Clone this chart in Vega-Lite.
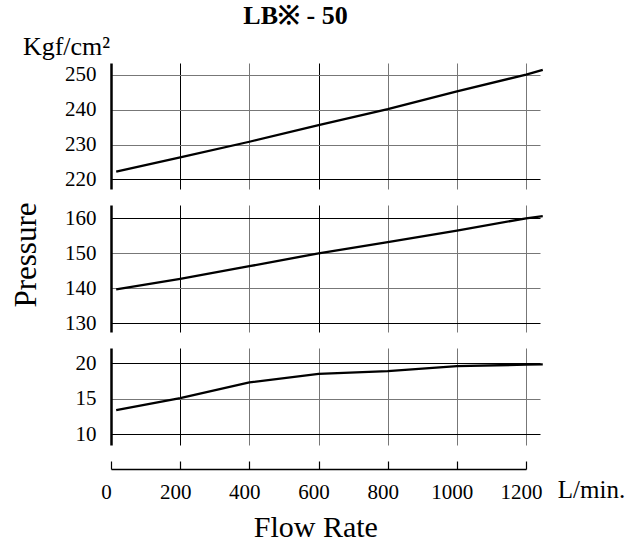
{
  "$schema": "https://vega.github.io/schema/vega-lite/v6.json",
  "padding": {"left": 10, "top": 3, "right": 5, "bottom": 2},
  "background": "white",
  "bounds": "flush",
  "spacing": 16,
  "config": {
    "view": {"stroke": null},
    "font": "Liberation Serif",
    "axis": {"labelFont": "Liberation Serif", "titleFont": "Liberation Serif", "labelColor": "black", "titleColor": "black", "titleFontWeight": "normal"}
  },
  "datasets": {
    "curves": [
      {"panel": "top", "flow": 15, "pressure": 222.2},
      {"panel": "top", "flow": 200, "pressure": 226.3},
      {"panel": "top", "flow": 400, "pressure": 230.8},
      {"panel": "top", "flow": 600, "pressure": 235.6},
      {"panel": "top", "flow": 800, "pressure": 240.2},
      {"panel": "top", "flow": 1000, "pressure": 245.3},
      {"panel": "top", "flow": 1200, "pressure": 250.1},
      {"panel": "top", "flow": 1248, "pressure": 251.5},
      {"panel": "middle", "flow": 15, "pressure": 139.7},
      {"panel": "middle", "flow": 200, "pressure": 142.7},
      {"panel": "middle", "flow": 400, "pressure": 146.3},
      {"panel": "middle", "flow": 600, "pressure": 150.0},
      {"panel": "middle", "flow": 800, "pressure": 153.2},
      {"panel": "middle", "flow": 1000, "pressure": 156.5},
      {"panel": "middle", "flow": 1200, "pressure": 160.0},
      {"panel": "middle", "flow": 1248, "pressure": 160.6},
      {"panel": "bottom", "flow": 15, "pressure": 13.4},
      {"panel": "bottom", "flow": 200, "pressure": 15.1},
      {"panel": "bottom", "flow": 400, "pressure": 17.3},
      {"panel": "bottom", "flow": 600, "pressure": 18.5},
      {"panel": "bottom", "flow": 800, "pressure": 18.9},
      {"panel": "bottom", "flow": 1000, "pressure": 19.6},
      {"panel": "bottom", "flow": 1200, "pressure": 19.8},
      {"panel": "bottom", "flow": 1248, "pressure": 19.85}
    ]
  },
  "vconcat": [
    {
      "width": 429,
      "height": 126,
      "title": {"text": "LB※ - 50", "font": "Liberation Serif", "fontSize": 26, "fontWeight": "bold", "color": "black", "anchor": "middle", "dx": -30, "offset": 4},
      "data": {"name": "curves"},
      "transform": [{"filter": "datum.panel === 'top'"}],
      "mark": {"type": "line", "color": "black", "strokeWidth": 2.3},
      "encoding": {
        "x": {
          "field": "flow", "type": "quantitative",
          "scale": {"domain": [0, 1240], "nice": false, "zero": false},
          "axis": {"values": [200, 400, 600, 800, 1000, 1200], "grid": true, "gridColor": {"condition": {"test": "datum.value === 200 || datum.value === 600", "value": "black"}, "value": "#777"}, "gridWidth": 1, "domain": false, "ticks": false, "labels": false, "title": null, "minExtent": 0, "maxExtent": 0}
        },
        "y": {
          "field": "pressure", "type": "quantitative",
          "scale": {"domain": [217.21, 253.45], "nice": false, "zero": false},
          "axis": {"values": [220, 230, 240, 250], "grid": true, "gridColor": {"condition": {"test": "datum.value === 220", "value": "black"}, "value": "#777"}, "gridWidth": 1, "domain": true, "domainColor": "black", "domainWidth": 2.5, "ticks": false, "labelFontSize": 21, "labelPadding": 15, "title": "Kgf/cm²", "titleAngle": 0, "titleFontSize": 26, "titleAlign": "center", "titleBaseline": "alphabetic", "titleX": -45, "titleY": -8.7}
        }
      }
    },
    {
      "width": 429,
      "height": 127,
      "data": {"name": "curves"},
      "transform": [{"filter": "datum.panel === 'middle'"}],
      "mark": {"type": "line", "color": "black", "strokeWidth": 2.3},
      "encoding": {
        "x": {
          "field": "flow", "type": "quantitative",
          "scale": {"domain": [0, 1240], "nice": false, "zero": false},
          "axis": {"values": [200, 400, 600, 800, 1000, 1200], "grid": true, "gridColor": {"condition": {"test": "datum.value === 200 || datum.value === 600", "value": "black"}, "value": "#777"}, "gridWidth": 1, "domain": false, "ticks": false, "labels": false, "title": null, "minExtent": 0, "maxExtent": 0}
        },
        "y": {
          "field": "pressure", "type": "quantitative",
          "scale": {"domain": [127.51, 163.8], "nice": false, "zero": false},
          "axis": {"values": [130, 140, 150, 160], "grid": true, "gridColor": {"condition": {"test": "datum.value === 130 || datum.value === 160", "value": "black"}, "value": "#777"}, "gridWidth": 1, "domain": true, "domainColor": "black", "domainWidth": 2.5, "ticks": false, "labelFontSize": 21, "labelPadding": 15, "title": "Pressure", "titleAngle": -90, "titleFontSize": 31, "titleAlign": "center", "titleBaseline": "alphabetic", "titleX": -75.7, "titleY": 49.5}
        }
      }
    },
    {
      "width": 429,
      "height": 97,
      "data": {"name": "curves"},
      "transform": [{"filter": "datum.panel === 'bottom'"}],
      "mark": {"type": "line", "color": "black", "strokeWidth": 2.3},
      "encoding": {
        "x": {
          "field": "flow", "type": "quantitative",
          "scale": {"domain": [0, 1240], "nice": false, "zero": false},
          "axis": {"values": [200, 400, 600, 800, 1000, 1200], "grid": true, "gridColor": {"condition": {"test": "datum.value === 200", "value": "black"}, "value": "#777"}, "gridWidth": 1, "domain": false, "ticks": false, "labels": false, "title": null, "minExtent": 0, "maxExtent": 0}
        },
        "y": {
          "field": "pressure", "type": "quantitative",
          "scale": {"domain": [8.52, 22.14], "nice": false, "zero": false},
          "axis": {"values": [10, 15, 20], "grid": true, "gridColor": {"condition": {"test": "datum.value === 10 || datum.value === 20", "value": "black"}, "value": "#777"}, "gridWidth": 1, "domain": true, "domainColor": "black", "domainWidth": 2.5, "ticks": false, "labelFontSize": 21, "labelPadding": 15, "title": null}
        }
      }
    },
    {
      "width": 415,
      "height": 8,
      "title": {"text": "Flow Rate", "orient": "bottom", "anchor": "start", "font": "Liberation Serif", "fontSize": 30, "fontWeight": "normal", "color": "black", "dx": 153, "offset": 10},
      "data": {"name": "curves"},
      "transform": [{"filter": "datum.panel === 'bottom' && datum.flow <= 1200"}],
      "mark": {"type": "point", "opacity": 0},
      "encoding": {
        "x": {
          "field": "flow", "type": "quantitative",
          "scale": {"domain": [0, 1200], "nice": false, "zero": false},
          "axis": {"values": [0, 200, 400, 600, 800, 1000, 1200], "format": "d", "grid": true, "gridColor": "black", "gridWidth": 1.2, "domain": true, "domainColor": "black", "domainWidth": 1.6, "ticks": false, "labelFontSize": 21, "labelPadding": 12, "labelOffset": -5, "labelFlush": false, "labelOverlap": false, "labelBound": false, "title": "L/min.", "titleAngle": 0, "titleFontSize": 25, "titleAlign": "center", "titleBaseline": "alphabetic", "titleX": 480, "titleY": 28.7}
        }
      }
    }
  ]
}
